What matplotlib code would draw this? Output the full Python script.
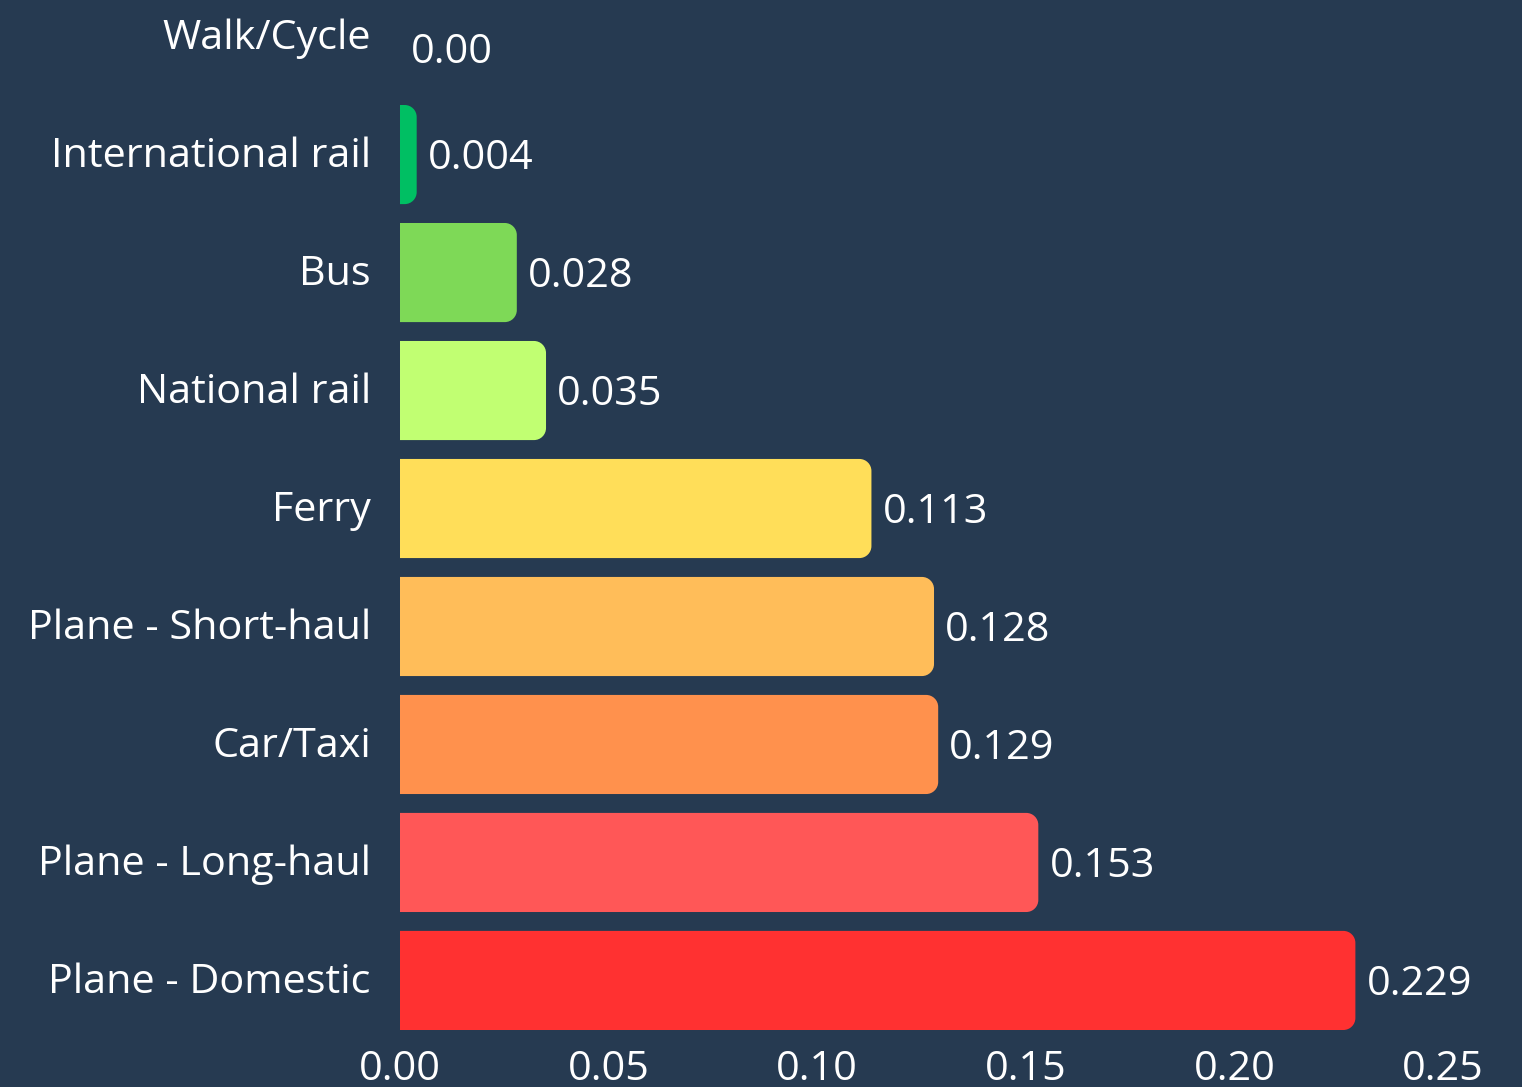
import matplotlib
matplotlib.use("Agg")
import matplotlib.pyplot as plt
import matplotlib.transforms as mtransforms
from matplotlib.path import Path
from matplotlib.patches import PathPatch

categories = ["Plane - Domestic", "Plane - Long-haul", "Car/Taxi", "Plane - Short-haul",
              "Ferry", "National rail", "Bus", "International rail", "Walk/Cycle"]
values = [0.229, 0.153, 0.129, 0.128, 0.113, 0.035, 0.028, 0.004, 0.0]
value_labels = ["0.229", "0.153", "0.129", "0.128", "0.113", "0.035", "0.028", "0.004", "0.00"]
colors = ["#ff3131", "#ff5757", "#ff914d", "#ffbd59", "#ffde59", "#c1ff72", "#7ed957", "#00bf63", "#00bf63"]
xticks = [0.00, 0.05, 0.10, 0.15, 0.20, 0.25]
xtick_labels = ["0.00", "0.05", "0.10", "0.15", "0.20", "0.25"]

BG = "#263a51"
plt.rcParams['font.family'] = ['Open Sans', 'DejaVu Sans']
FS = 29.8

W, H = 1522, 1087
fig = plt.figure(figsize=(W / 100, H / 100), dpi=100, facecolor=BG)
ax = fig.add_axes([400 / W, 57 / H, 1043 / W, 1 - 57 / H])
ax.set_facecolor(BG)
ax.set_xlim(0, 0.25)
ax.set_ylim(-0.42, 8.31)

ypos = list(range(len(categories)))
bars = ax.barh(ypos, values, height=0.84, color=colors, alpha=0)

# pixels per data unit
p0 = ax.transData.transform((0, 0))
p1 = ax.transData.transform((1, 1))
xs = p1[0] - p0[0]
ys = p1[1] - p0[1]
r_px = 12
k = 0.5523

for b, c in zip(bars, colors):
    w = b.get_width()
    if w <= 0:
        continue
    x0 = b.get_x()
    y0 = b.get_y()
    y1 = y0 + b.get_height()
    x1 = x0 + w
    rx = min(r_px / xs, w)
    ry = r_px / ys
    verts = [(x0, y0), (x1 - rx, y0),
             (x1 - rx + k * rx, y0), (x1, y0 + ry - k * ry), (x1, y0 + ry),
             (x1, y1 - ry),
             (x1, y1 - ry + k * ry), (x1 - rx + k * rx, y1), (x1 - rx, y1),
             (x0, y1), (x0, y0)]
    codes = [Path.MOVETO, Path.LINETO,
             Path.CURVE4, Path.CURVE4, Path.CURVE4,
             Path.LINETO,
             Path.CURVE4, Path.CURVE4, Path.CURVE4,
             Path.LINETO, Path.CLOSEPOLY]
    ax.add_patch(PathPatch(Path(verts, codes), facecolor=c, edgecolor="none"))

for y, v, lab in zip(ypos, values, value_labels):
    off = -11.5 if v == 0 else -3
    ax.annotate(lab, xy=(v, y), xytext=(8, off), textcoords="offset points",
                ha="left", va="center", color="white", fontsize=FS, clip_on=False)

ax.set_yticks(ypos)
ax.set_yticklabels(categories)
ax.set_xticks(xticks)
ax.set_xticklabels(xtick_labels)
ax.tick_params(axis="y", length=0, pad=21, labelsize=FS, labelcolor="white")
ax.tick_params(axis="x", length=0, pad=14, labelsize=FS, labelcolor="white")
for s in ax.spines.values():
    s.set_visible(False)

shift = mtransforms.ScaledTranslation(0, 3 / 100, fig.dpi_scale_trans)
for lbl in ax.get_yticklabels():
    lbl.set_transform(lbl.get_transform() + shift)

fig.savefig("out.png", dpi=100, facecolor=BG)
